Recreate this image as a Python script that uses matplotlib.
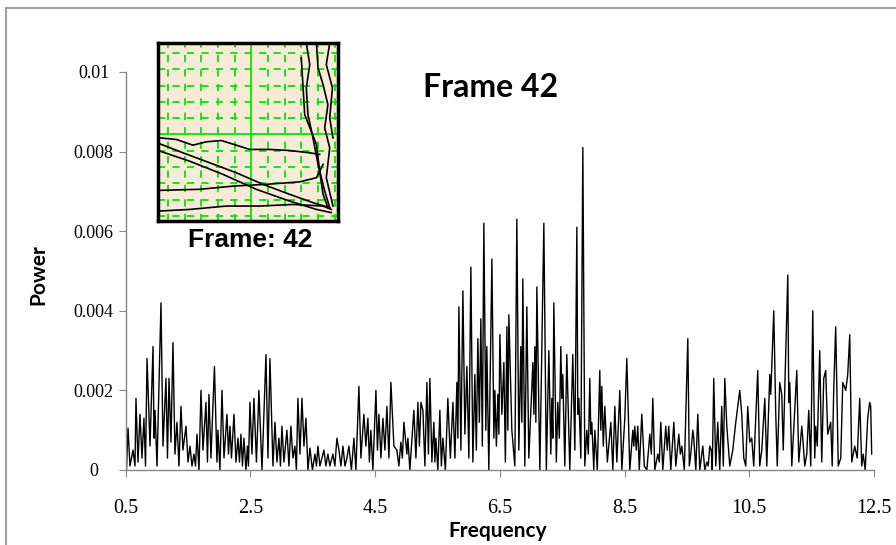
import matplotlib
matplotlib.use('Agg')
import matplotlib.pyplot as plt
from matplotlib.patches import Rectangle
import numpy as np

# spectrum vertices (frequency, power in units of 1e-4)
FREQ = [
    0.500, 0.516, 0.540, 0.572, 0.620, 0.652, 0.668, 0.700, 0.732, 0.764, 0.796, 0.821,
    0.845, 0.893, 0.941, 0.957, 0.973, 1.005, 1.069, 1.101, 1.149, 1.173, 1.197, 1.229,
    1.261, 1.293, 1.325, 1.357, 1.389, 1.421, 1.470, 1.502, 1.534, 1.566, 1.598, 1.622,
    1.646, 1.678, 1.710, 1.742, 1.790, 1.814, 1.838, 1.870, 1.926, 1.966, 1.982, 2.014,
    2.047, 2.079, 2.127, 2.151, 2.175, 2.199, 2.239, 2.271, 2.303, 2.327, 2.351, 2.375,
    2.399, 2.431, 2.455, 2.471, 2.495, 2.527, 2.559, 2.599, 2.639, 2.688, 2.752, 2.784,
    2.816, 2.864, 2.896, 2.928, 2.960, 2.984, 3.008, 3.040, 3.088, 3.120, 3.152, 3.184,
    3.216, 3.240, 3.264, 3.297, 3.329, 3.361, 3.393, 3.425, 3.457, 3.497, 3.537, 3.561,
    3.585, 3.617, 3.649, 3.681, 3.713, 3.745, 3.777, 3.825, 3.857, 3.889, 3.922, 3.954,
    3.986, 4.018, 4.050, 4.082, 4.122, 4.162, 4.194, 4.242, 4.274, 4.322, 4.354, 4.386,
    4.410, 4.434, 4.466, 4.515, 4.539, 4.563, 4.595, 4.627, 4.659, 4.691, 4.723, 4.755,
    4.803, 4.851, 4.883, 4.915, 4.939, 4.963, 5.011, 5.027, 5.059, 5.123, 5.156, 5.188,
    5.212, 5.236, 5.268, 5.300, 5.332, 5.356, 5.380, 5.412, 5.444, 5.460, 5.476, 5.508,
    5.540, 5.564, 5.588, 5.628, 5.668, 5.708, 5.749, 5.781, 5.813, 5.829, 5.845, 5.877,
    5.909, 5.941, 5.973, 6.005, 6.037, 6.069, 6.101, 6.125, 6.149, 6.173, 6.197, 6.221,
    6.245, 6.277, 6.293, 6.325, 6.374, 6.406, 6.422, 6.446, 6.470, 6.486, 6.502, 6.534,
    6.566, 6.590, 6.614, 6.630, 6.646, 6.694, 6.742, 6.774, 6.806, 6.838, 6.854, 6.870,
    6.902, 6.934, 6.966, 7.031, 7.047, 7.063, 7.079, 7.095, 7.143, 7.207, 7.247, 7.287,
    7.319, 7.335, 7.351, 7.367, 7.407, 7.431, 7.455, 7.479, 7.495, 7.511, 7.543, 7.575,
    7.623, 7.671, 7.704, 7.736, 7.752, 7.768, 7.800, 7.832, 7.864, 7.896, 7.920, 7.944,
    7.960, 7.976, 8.008, 8.024, 8.064, 8.104, 8.120, 8.136, 8.160, 8.184, 8.225, 8.281,
    8.313, 8.345, 8.377, 8.425, 8.457, 8.505, 8.537, 8.553, 8.585, 8.633, 8.649, 8.665,
    8.689, 8.713, 8.737, 8.777, 8.818, 8.858, 8.906, 8.930, 8.954, 8.986, 9.034, 9.058,
    9.082, 9.114, 9.162, 9.186, 9.210, 9.242, 9.291, 9.323, 9.371, 9.395, 9.419, 9.459,
    9.515, 9.539, 9.563, 9.595, 9.611, 9.643, 9.675, 9.707, 9.755, 9.787, 9.819, 9.843,
    9.867, 9.891, 9.907, 9.931, 9.963, 9.995, 10.027, 10.059, 10.084, 10.108, 10.140, 10.188,
    10.236, 10.284, 10.316, 10.348, 10.380, 10.412, 10.444, 10.476, 10.508, 10.540, 10.572, 10.636,
    10.668, 10.701, 10.749, 10.781, 10.829, 10.845, 10.893, 10.925, 10.949, 10.989, 11.021, 11.045,
    11.069, 11.118, 11.134, 11.150, 11.182, 11.262, 11.294, 11.342, 11.358, 11.390, 11.422, 11.454,
    11.486, 11.518, 11.550, 11.566, 11.590, 11.630, 11.662, 11.694, 11.726, 11.758, 11.806, 11.830,
    11.854, 11.886, 11.927, 11.967, 11.999, 12.047, 12.079, 12.111, 12.143, 12.191, 12.231, 12.271,
    12.303, 12.327, 12.359, 12.399, 12.431, 12.447, 12.463,
]
POWER_E4 = [
    4, 0, 10.5, 1, 5, 1, 18, 2, 14, 3, 13, 1,
    28, 6, 31, 8, 15, 1, 42, 6, 23, 3, 23, 7,
    32, 4, 12, 1, 16, 5, 11, 2, 6, 1, 4, 1,
    9, 0, 20, 5, 17, 2, 19, 3, 26, 2, 10, 0,
    20, 3, 14, 4, 11, 3, 14, 2, 8, 2, 9, 1,
    8, 0, 6, 1, 17, 4, 18, 2, 20, 0, 29, 3,
    28, 1, 12, 2, 8, 1, 11, 2, 10, 1, 11, 3,
    6, 0, 18, 4, 18, 6, 13, 0, 5.5, 0, 4, 1,
    6, 1, 3, 5, 1, 4, 1, 4, 1, 8, 5, 1,
    6, 1, 3, 6, 0, 8, 0, 21, 3, 14, 6, 13,
    2, 10, 0, 20, 5, 14, 3, 13, 5, 16, 3, 22,
    6, 5, 1, 7, 3, 12, 4, 8, 0, 15, 3, 17,
    6, 17, 15, 1, 22, 4, 23, 2, 12, 2, 8, 0,
    15, 1, 8, 0, 18, 3, 17, 3, 22, 8, 41, 5,
    45, 9, 26, 3, 51, 2, 24, 5, 33, 12, 38, 6,
    62, 10, 31, 0, 53, 8, 20, 6, 19, 9, 34, 14,
    27, 2, 36, 10, 39, 10, 1, 63, 5, 31, 12, 48,
    1, 41, 3, 27, 14, 31, 12, 46, 0, 62, 0, 30,
    4, 18, 8, 42, 2, 17, 8, 31, 18, 24, 1, 29,
    0, 29, 5, 61, 14, 18, 3, 81, 1, 10, 4, 23,
    9, 12, 0, 10, 0, 25, 10, 21, 6, 16, 2, 12,
    0, 16, 2, 20, 0, 13, 28, 19, 0, 10, 6, 11,
    5, 11, 0, 14, 1, 0, 9, 4, 18, 0, 4, 2,
    12, 0, 11, 5, 11, 0, 12, 1, 9, 4, 6, 0,
    33, 1, 4, 10, 8, 0, 14, 0, 6, 0, 2, 1,
    6, 5, 0, 23, 1, 12, 0, 16, 1, 23, 11, 1,
    5, 12, 16, 20, 14, 3, 1, 16, 7, 8, 1, 25,
    1, 5, 18, 1, 24, 19, 40, 14, 1, 22, 19, 5,
    20, 49, 17, 22, 1, 25, 2, 11, 8, 1, 4, 15,
    1, 40, 3, 11, 6, 30, 2, 23, 25, 9, 12, 1,
    20, 36, 1, 3, 22, 20, 24, 34, 2, 6, 3, 18,
    1, 4, 0, 13, 17, 16, 4,
]
power = np.array(POWER_E4) * 1e-4

X_TICKS = [0.5, 2.5, 4.5, 6.5, 8.5, 10.5, 12.5]
X_TICK_LABELS = ['0.5', '2.5', '4.5', '6.5', '8.5', '10.5', '12.5']
Y_TICKS = [0, 0.002, 0.004, 0.006, 0.008, 0.01]
Y_TICK_LABELS = ['0', '0.002', '0.004', '0.006', '0.008', '0.01']

# trajectories in the small frame picture (0..1 box coords)
TRACES = [
    ([0.009, 0.102, 0.194, 0.269, 0.352, 0.435, 0.509, 0.620, 0.731, 0.843, 0.898],
     [0.467, 0.458, 0.426, 0.445, 0.452, 0.426, 0.402, 0.402, 0.396, 0.383, 0.374]),
    ([0.009, 0.139, 0.287, 0.435, 0.583, 0.731, 0.861, 0.954],
     [0.434, 0.383, 0.327, 0.271, 0.206, 0.150, 0.103, 0.075]),
    ([0.009, 0.176, 0.361, 0.546, 0.731, 0.880, 0.963],
     [0.393, 0.336, 0.262, 0.178, 0.112, 0.065, 0.047]),
    ([0.009, 0.231, 0.417, 0.602, 0.787, 0.880, 0.917],
     [0.172, 0.178, 0.196, 0.206, 0.220, 0.243, 0.318]),
    ([0.009, 0.176, 0.380, 0.565, 0.750, 0.917, 0.963],
     [0.056, 0.065, 0.084, 0.084, 0.093, 0.084, 0.065]),
    ([0.824, 0.843, 0.824, 0.833, 0.861, 0.889, 0.926, 0.954],
     [1.000, 0.879, 0.748, 0.598, 0.467, 0.318, 0.168, 0.075]),
    ([0.880, 0.889, 0.917, 0.944, 0.926, 0.954, 0.935, 0.972],
     [1.000, 0.860, 0.766, 0.654, 0.523, 0.411, 0.243, 0.084]),
    ([0.954, 0.935, 0.969, 0.954, 0.972],
     [1.000, 0.879, 0.748, 0.579, 0.467]),
    ([0.796, 0.806, 0.815, 0.880, 0.898, 0.917, 0.944],
     [0.916, 0.748, 0.598, 0.430, 0.280, 0.150, 0.075]),
]

W, H = 896, 545
SANS = ['Lato', 'DejaVu Sans']
SERIF = ['Liberation Serif', 'DejaVu Serif']
AXIS_GREY = '#868686'

fig = plt.figure(figsize=(W / 100, H / 100), dpi=100)

# chart area border
fig.patches.append(Rectangle((6 / W, -0.1), 1.2, 1.1 - 8 / H, transform=fig.transFigure,
                             fill=False, edgecolor='#a0a0a0', lw=1.5))

ax = fig.add_axes([125.5 / W, 1 - 470 / H, (874 - 125.5) / W, 398 / H])
ax.plot(FREQ, power, color='black', lw=1.0)
ax.set_xlim(0.5, 12.5)
ax.set_ylim(0, 0.01)
for side in ['top', 'right']:
    ax.spines[side].set_visible(False)
for side in ['left', 'bottom']:
    ax.spines[side].set_color(AXIS_GREY)
    ax.spines[side].set_linewidth(1.0)

ax.set_xticks(X_TICKS)
ax.set_xticklabels(X_TICK_LABELS, family=SERIF, fontsize=14.5)
ax.set_yticks(Y_TICKS)
ax.set_yticklabels(Y_TICK_LABELS, family=SERIF, fontsize=13, ha='center')
ax.tick_params(axis='x', direction='out', length=5, color=AXIS_GREY, pad=16)
ax.tick_params(axis='y', direction='out', length=5, color=AXIS_GREY, pad=18)

fig.text(38 / W, 1 - 275 / H, 'Power', rotation=90, ha='center', va='center',
         family=SANS, fontsize=15, fontweight='bold')
fig.text(498 / W, 1 - 531 / H, 'Frequency', ha='center', va='center',
         family=SANS, fontsize=15, fontweight='bold')
fig.text(491 / W, 1 - 87 / H, 'Frame 42', ha='center', va='center',
         family=SANS, fontsize=23, fontweight='bold')

# inset frame picture
ins = fig.add_axes([158 / W, 1 - 221 / H, 180 / W, 178 / H])
ins.set_facecolor('#faebd9')
ins.set_xlim(0, 1)
ins.set_ylim(0, 1)
ins.set_xticks([])
ins.set_yticks([])
for s in ins.spines.values():
    s.set_linewidth(2.5)
    s.set_color('black')
for k in range(11):
    xv = 0.0556 + k * 0.0926
    yv = 1 - (0.056 + k * 0.0916)
    if k == 5:
        ins.axvline(xv, color='#00e600', lw=1.3)
        ins.axhline(yv, color='#00e600', lw=1.3)
    else:
        ins.axvline(xv, color='#00e600', lw=1.3, dashes=(4, 4))
        ins.axhline(yv, color='#00e600', lw=1.3, dashes=(4, 4))
for u, v in TRACES:
    ins.plot(u, v, color='black', lw=1.2)

fig.text(250 / W, 1 - 240 / H, 'Frame: 42', ha='center', va='center',
         family=['Liberation Sans', 'DejaVu Sans'], fontsize=19, fontweight='bold')

fig.savefig('out.png', dpi=100)
